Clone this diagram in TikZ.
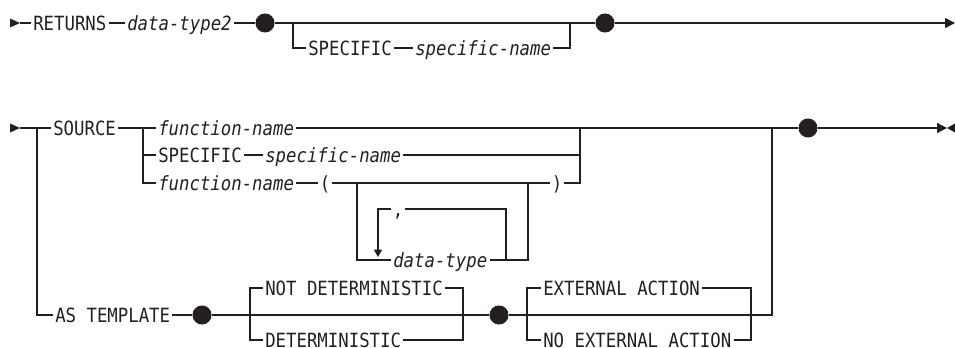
\documentclass[tikz,border=0pt]{standalone}
\usepackage{fontspec}
\newfontfamily\railfont[FakeStretch=0.885]{DejaVu Sans Mono}
\usetikzlibrary{arrows.meta}
\definecolor{ink}{HTML}{231F20}

\begin{document}
\begin{tikzpicture}[x=0.75pt,y=-0.75pt,
    kw/.style={anchor=west,inner xsep=1.5pt,inner ysep=0pt,text height=10.7pt,text depth=0pt,
               text=ink,font=\railfont\fontsize{14.7pt}{16pt}\selectfont},
    var/.style={kw,font=\railfont\itshape\fontsize{14.7pt}{16pt}\selectfont},
    dot/.style={circle,fill=ink,inner sep=0pt,minimum size=14.3pt},
    lin/.style={draw=ink,line width=1pt},
    arr/.style={lin,-{Triangle[length=7.5pt,width=7.5pt]}},
    sarr/.style={lin,-{Triangle[length=5.5pt,width=6pt]}}]
  \useasboundingbox (0,0) rectangle (955,348);
  % first diagram
  \coordinate (r1s) at (20,23);
  \coordinate (r1e) at (955,23);
  \coordinate (j1) at (293,23);
  \coordinate (j1r) at (570,23);
  \node[kw]  (ret)  at (31,23)  {RETURNS};
  \node[var] (dt2)  at (125,23) {data-type2};
  \node[dot] (d1)   at (265,23) {};
  \node[kw]  (sp1)  at (306,48) {SPECIFIC};
  \node[var] (spn1) at (413,48) {specific-name};
  \node[dot] (d2)   at (605,23) {};
  \fill[ink] (r1s) -- ++(-10,-4.5) -- ++(0,9) -- cycle;
  \draw[lin] (r1s) -- (ret.west);
  \draw[lin] (ret.east) -- (dt2.west);
  \draw[lin] (dt2.east) -- (d1);
  \draw[lin] (d1) -- (d2);
  \draw[lin] (j1) |- (sp1.west);
  \draw[lin] (sp1.east) -- (spn1.west);
  \draw[lin] (spn1.east) -| (j1r);
  \draw[arr] (d2) -- (r1e);
  % second diagram
  \coordinate (r2s) at (20,128);
  \coordinate (r2e) at (947,128);
  \coordinate (j2a) at (37,128);
  \coordinate (j2b) at (143,128);
  \coordinate (j2c) at (580,128);
  \coordinate (j2d) at (772,128);
  \coordinate (j3a) at (357,183);
  \coordinate (j3b) at (528,183);
  \coordinate (loopR) at (506,209);
  \coordinate (loopA) at (378,257);
  \coordinate (j4a) at (250,315);
  \coordinate (j4b) at (463,315);
  \coordinate (j4c) at (527,315);
  \coordinate (j4d) at (751,315);
  \coordinate (j4e) at (772,315);
  \node[kw]  (src)   at (51,128)  {SOURCE};
  \node[var] (fn1)   at (156,128) {function-name};
  \node[kw]  (sp2)   at (156,155) {SPECIFIC};
  \node[var] (spn2)  at (263,155) {specific-name};
  \node[var] (fn2)   at (156,183) {function-name};
  \node[kw,anchor=center] (lp) at (325,183) {(};
  \node[kw,anchor=center] (rp) at (557,183) {)};
  \node[kw,anchor=center] (cm) at (398,209) {,};
  \node[var] (dt)    at (391,260) {data-type};
  \node[dot] (d3)    at (808,128) {};
  \node[kw]  (tmpl)  at (53,315)  {AS TEMPLATE};
  \node[dot] (d4)    at (202,315) {};
  \node[kw]  (ndet)  at (263,288) {NOT DETERMINISTIC};
  \node[kw]  (det)   at (263,340) {DETERMINISTIC};
  \node[dot] (d5)    at (499,315) {};
  \node[kw]  (ext)   at (541,288) {EXTERNAL ACTION};
  \node[kw]  (noext) at (541,340) {NO EXTERNAL ACTION};
  \fill[ink] (r2s) -- ++(-10,-4.5) -- ++(0,9) -- cycle;
  \draw[lin] (r2s) -- (src.west);
  \draw[lin] (j2a) |- (tmpl.west);
  \draw[lin] (src.east) -- (fn1.west);
  \draw[lin] (j2b) |- (fn2.west);
  \draw[lin] (j2b |- sp2.west) -- (sp2.west);
  \draw[lin] (sp2.east) -- (spn2.west);
  \draw[lin] (spn2.east) -- (j2c |- spn2.east);
  \draw[lin] (fn1.east) -- (d3);
  \draw[lin] (fn2.east) -- (lp.west);
  \draw[lin] (lp.east) -- (rp.west);
  \draw[lin] (rp.east) -| (j2c);
  \draw[lin] (j3a) |- (dt.west);
  \draw[lin] (dt.east) -| (j3b);
  \draw[lin] (loopR |- dt.east) -- (loopR) -- (cm.east);
  \draw[sarr] (cm.west) -| (loopA);
  \draw[lin] (tmpl.east) -- (d4);
  \draw[lin] (d4) -- (d5);
  \draw[lin] (j4a) |- (ndet.west);
  \draw[lin] (ndet.east) -| (j4b);
  \draw[lin] (j4a) |- (det.west);
  \draw[lin] (det.east) -| (j4b);
  \draw[lin] (d5) -- (j4e) -- (j2d);
  \draw[lin] (j4c) |- (ext.west);
  \draw[lin] (ext.east) -| (j4d);
  \draw[lin] (j4c) |- (noext.west);
  \draw[lin] (noext.east) -| (j4d);
  \draw[arr] (d3) -- (r2e);
  \fill[ink] (r2e) -- ++(8,-4.5) -- ++(0,9) -- cycle;
\end{tikzpicture}
\end{document}
